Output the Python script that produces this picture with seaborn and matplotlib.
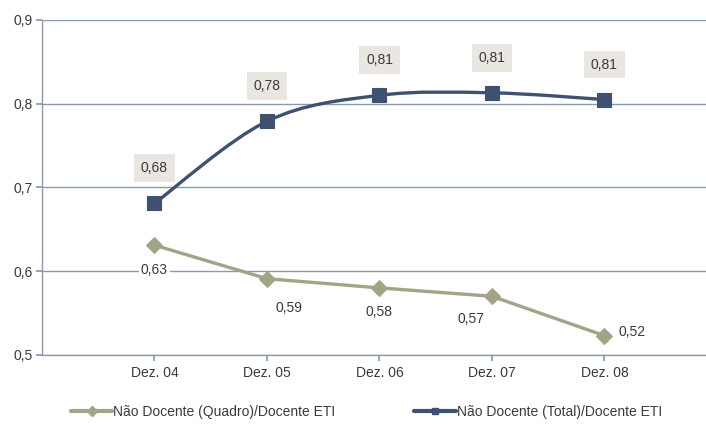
import numpy as np
import pandas as pd
import matplotlib
matplotlib.use("Agg")
import matplotlib.pyplot as plt
import seaborn as sns
from matplotlib.path import Path
from matplotlib.patches import PathPatch
from matplotlib.lines import Line2D

categories = ["Dez. 04", "Dez. 05", "Dez. 06", "Dez. 07", "Dez. 08"]
quadro = [0.631, 0.591, 0.580, 0.570, 0.523]
total = [0.681, 0.779, 0.810, 0.813, 0.805]
quadro_labels = ["0,63", "0,59", "0,58", "0,57", "0,52"]
total_labels = ["0,68", "0,78", "0,81", "0,81", "0,81"]
name_quadro = "Não Docente (Quadro)/Docente ETI"
name_total = "Não Docente (Total)/Docente ETI"
yticks = [0.5, 0.6, 0.7, 0.8, 0.9]
ytick_labels = ["0,5", "0,6", "0,7", "0,8", "0,9"]

sns.set_theme(style="white")
plt.rcParams["font.family"] = ["Liberation Sans", "DejaVu Sans"]

navy = "#3F5170"
olive = "#A3A386"
grid_c = "#8A99B2"
box_c = "#EAE6E2"
text_c = "#3A3A3A"
fs = 10

df = pd.DataFrame({
    "x": list(range(len(categories))) * 2,
    "value": quadro + total,
    "series": [name_quadro] * len(categories) + [name_total] * len(categories),
})

fig = plt.figure(figsize=(7.06, 4.25), dpi=100)
ax = fig.add_axes([0.0595, 0.165, 0.94, 0.788])

# Quadro series: straight line with diamond markers
sns.lineplot(data=df[df.series == name_quadro], x="x", y="value", ax=ax,
             color=olive, linewidth=2.4, marker="D", markersize=8,
             markeredgecolor=olive, legend=False, zorder=3)

# Total series: smoothed (Bezier through points, Excel style)
xs = np.arange(len(total), dtype=float)
ys = np.array(total)
verts = [(xs[0], ys[0])]
codes = [Path.MOVETO]
n = len(xs)
for i in range(n - 1):
    p0 = np.array([xs[max(i - 1, 0)], ys[max(i - 1, 0)]])
    p1 = np.array([xs[i], ys[i]])
    p2 = np.array([xs[i + 1], ys[i + 1]])
    p3 = np.array([xs[min(i + 2, n - 1)], ys[min(i + 2, n - 1)]])
    c1 = p1 + (p2 - p0) / 6.0
    c2 = p2 - (p3 - p1) / 6.0
    verts += [tuple(c1), tuple(c2), tuple(p2)]
    codes += [Path.CURVE4] * 3
ax.add_patch(PathPatch(Path(verts, codes), facecolor="none", edgecolor=navy,
                       linewidth=2.4, zorder=3))
sns.scatterplot(data=df[df.series == name_total], x="x", y="value", ax=ax,
                color=navy, marker="s", s=100, edgecolor=navy, legend=False,
                zorder=4)

# Data labels
for i, (v, lab) in enumerate(zip(total, total_labels)):
    ax.annotate(lab, (i, v), xytext=(0, 35), textcoords="offset pixels",
                ha="center", va="center", fontsize=fs, color=text_c,
                bbox=dict(boxstyle="square,pad=0.5", fc=box_c, ec="none"))
q_offsets = [(0, -25), (22, -29), (0, -24), (-21, -23), (28, 4)]
for i, (v, lab) in enumerate(zip(quadro, quadro_labels)):
    ax.annotate(lab, (i, v), xytext=q_offsets[i], textcoords="offset pixels",
                ha="center", va="center", fontsize=fs, color=text_c,
                bbox=dict(boxstyle="square,pad=0.15", fc="white", ec="none"),
                zorder=5)

ax.set_xlim(-1, 4.9)
ax.set_ylim(0.5, 0.9)
ax.set_yticks(yticks)
ax.set_yticklabels(ytick_labels, fontsize=fs, color=text_c)
ax.set_xticks(range(len(categories)))
ax.set_xticklabels(categories, fontsize=fs, color=text_c)
ax.yaxis.grid(True, color=grid_c, linewidth=1)
ax.set_axisbelow(True)
ax.set_xlabel("")
ax.set_ylabel("")
for s in ["top", "right"]:
    ax.spines[s].set_visible(False)
for s in ["left", "bottom"]:
    ax.spines[s].set_color(grid_c)
    ax.spines[s].set_linewidth(1)
ax.tick_params(axis="both", which="both", length=4, color=grid_c, direction="out",
               bottom=True, left=True)
ax.tick_params(axis="y", pad=3)
ax.tick_params(axis="x", pad=4)

handles = [
    Line2D([], [], color=olive, linewidth=3, marker="D", markersize=5),
    Line2D([], [], color=navy, linewidth=3, marker="s", markersize=5),
]
fig.legend(handles, [name_quadro, name_total], loc="center",
           bbox_to_anchor=(0.519, 0.03), ncol=2, frameon=False, fontsize=fs,
           handlelength=3.0, handletextpad=0.05, columnspacing=5.7,
           labelcolor=text_c)

fig.savefig("out.png", dpi=100)
